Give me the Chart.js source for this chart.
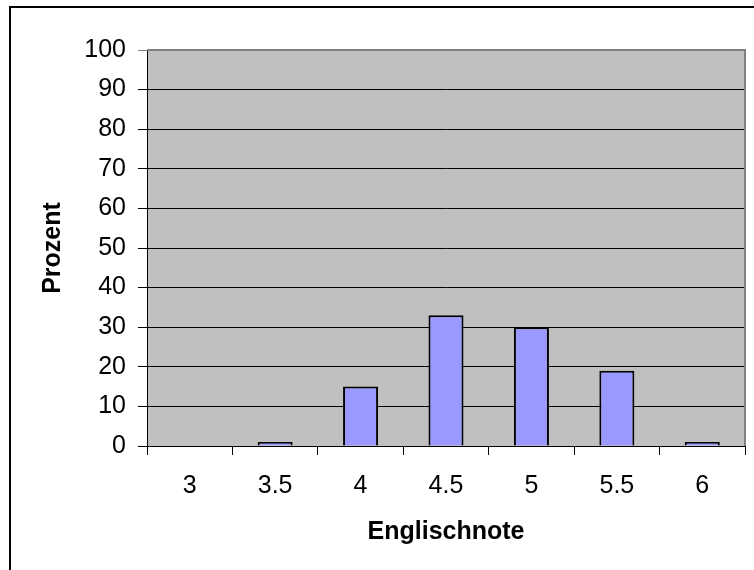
<!DOCTYPE html>
<html>
<head>
<meta charset="utf-8">
<script src="https://cdn.jsdelivr.net/npm/chart.js@4/dist/chart.umd.min.js"></script>
<style>
  html, body { margin: 0; padding: 0; background: #fff; }
  #wrap { width: 754px; height: 570px; position: relative; }
</style>
</head>
<body>
<div id="wrap"><canvas id="myChart" width="754" height="570"></canvas></div>
<script>
// grades on the x axis and share of students in percent
var noten = ['3', '3.5', '4', '4.5', '5', '5.5', '6'];
var prozent = [0, 1, 15, 33, 30, 19, 1];
var yTicks = [0, 10, 20, 30, 40, 50, 60, 70, 80, 90, 100];

// gray plot area + outer frame, like the old excel chart
var excelLook = {
    id: 'excelLook',
    beforeDraw: function (chart) {
        var c = chart.ctx, a = chart.chartArea;
        c.save();
        c.fillStyle = '#fff';
        c.fillRect(0, 0, chart.width, chart.height);
        c.strokeStyle = '#000';
        c.lineWidth = 2;
        c.beginPath();
        c.moveTo(10, chart.height);
        c.lineTo(10, 7);
        c.lineTo(chart.width, 7);
        c.stroke();
        c.fillStyle = '#C0C0C0';
        c.fillRect(a.left, a.top, a.right - a.left, a.bottom - a.top);
        c.restore();
    },
    afterDraw: function (chart) {
        var c = chart.ctx, a = chart.chartArea;
        c.save();
        c.strokeStyle = '#808080';
        c.lineWidth = 2;
        c.beginPath();
        c.moveTo(a.left, a.top);
        c.lineTo(a.right, a.top);
        c.lineTo(a.right, a.bottom);
        c.stroke();
        c.restore();
    }
};

var font = { family: 'Liberation Sans, Arial, sans-serif', size: 25 };
var bold = { family: 'Liberation Sans, Arial, sans-serif', size: 25, weight: 'bold' };

var ctx = document.getElementById('myChart').getContext('2d');
var myChart = new Chart(ctx, {
    type: 'bar',
    data: {
        labels: noten,
        datasets: [{
            label: 'Prozent',
            data: prozent,
            backgroundColor: '#9999FF',
            borderColor: '#000',
            borderWidth: 2,
            barPercentage: 0.41,
            categoryPercentage: 1
        }]
    },
    options: {
        responsive: false,
        animation: false,
        layout: { padding: { left: 38, top: 50, right: 9, bottom: 23 } },
        plugins: { legend: { display: false }, tooltip: { enabled: false } },
        scales: {
            x: {
                grid: { offset: true, drawOnChartArea: false, drawTicks: true, tickLength: 9, color: '#000', lineWidth: 1 },
                border: { color: '#000', width: 1 },
                ticks: { color: '#000', font: font, padding: 16, maxRotation: 0 },
                title: { display: true, text: 'Englischnote', color: '#000', padding: 0, font: bold },
                afterFit: function (s) { s.height = 101; }
            },
            y: {
                min: 0, max: 100,
                afterBuildTicks: function (s) { s.ticks = yTicks.map(function (v) { return { value: v }; }); },
                grid: { tickLength: 9, lineWidth: 1,
                        color: function (c) { return c.tick && c.tick.value === 100 ? '#808080' : '#000'; } },
                border: { color: '#000', width: 1 },
                ticks: { color: '#000', font: font, padding: 12 },
                title: { display: true, text: 'Prozent', color: '#000', padding: 0, font: bold },
                afterFit: function (s) { s.width = 109; }
            }
        }
    },
    plugins: [excelLook]
});
</script>
</body>
</html>
